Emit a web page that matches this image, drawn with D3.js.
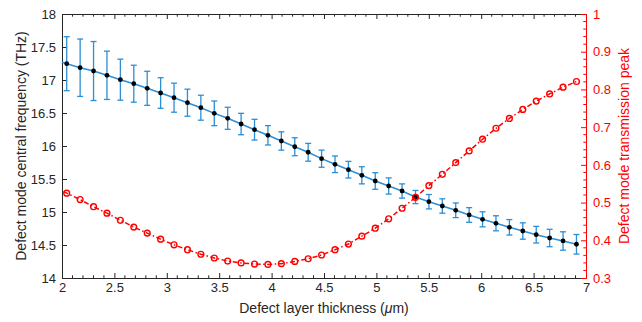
<!DOCTYPE html>
<html><head><meta charset="utf-8">
<script src="https://cdn.jsdelivr.net/npm/d3@7"></script>
<style>body{margin:0;background:#fff}svg{display:block}text{font-family:"Liberation Sans",Arial,sans-serif}</style>
</head><body><svg id="c" width="642" height="322"></svg>
<script>
// thickness (µm); first sample lies just outside the axis and is clipped
const thickness = [1.917,2.045,2.173,2.301,2.429,2.557,2.685,2.813,2.941,3.069,3.197,3.325,3.453,3.581,3.709,3.837,3.965,4.093,4.221,4.349,4.477,4.605,4.733,4.861,4.989,5.117,5.245,5.373,5.501,5.629,5.757,5.885,6.013,6.141,6.269,6.397,6.525,6.653,6.781,6.909];
const frequency = [17.306,17.247,17.186,17.136,17.071,17.005,16.944,16.874,16.803,16.732,16.656,16.580,16.495,16.420,16.333,16.247,16.162,16.076,15.989,15.905,15.808,15.723,15.641,15.556,15.470,15.394,15.318,15.227,15.156,15.091,15.026,14.955,14.889,14.829,14.768,14.712,14.656,14.606,14.561,14.511];
const freqError = [0.40,0.409,0.435,0.447,0.366,0.311,0.280,0.258,0.232,0.220,0.205,0.189,0.187,0.167,0.162,0.157,0.147,0.139,0.136,0.135,0.130,0.126,0.126,0.130,0.126,0.123,0.108,0.100,0.109,0.109,0.111,0.111,0.114,0.114,0.117,0.124,0.126,0.132,0.139,0.148];
const transmission = [0.543,0.525,0.508,0.489,0.472,0.453,0.435,0.419,0.403,0.388,0.375,0.363,0.353,0.345,0.340,0.337,0.336,0.338,0.344,0.351,0.361,0.375,0.390,0.411,0.432,0.457,0.485,0.514,0.545,0.575,0.606,0.637,0.668,0.697,0.723,0.747,0.769,0.788,0.806,0.821];
const xTicks = [2,2.5,3,3.5,4,4.5,5,5.5,6,6.5,7];
const yLeftTicks = [14,14.5,15,15.5,16,16.5,17,17.5,18];
const yRightTicks = [0.3,0.4,0.5,0.6,0.7,0.8,0.9,1];

const L=62,R=586,T=14,B=278;
const gray="#262626", red="#ff0000", blue="#2b8ed6";
const svg=d3.select("#c");
const x=d3.scaleLinear().domain([2,7]).range([L,R]);
const yl=d3.scaleLinear().domain([14,18]).range([B,T]);
const yr=d3.scaleLinear().domain([0.3,1]).range([B,T]);

svg.append("defs").append("clipPath").attr("id","clip").append("rect")
  .attr("x",L).attr("y",T).attr("width",R-L).attr("height",B-T);

const minorX=d3.range(20,71).map(d=>d/10).filter(d=>!xTicks.some(t=>Math.abs(t-d)<1e-9));
const minorR=d3.range(15,51).map(d=>d/50).filter(d=>!yRightTicks.some(t=>Math.abs(t-d)<1e-9));

// bottom axis
const ax=svg.append("g").attr("transform",`translate(0,${B})`)
  .call(d3.axisBottom(x).tickValues(xTicks).tickSize(-5).tickPadding(5).tickFormat(d3.format("~g")));
ax.select(".domain").attr("stroke",gray);
ax.selectAll(".tick line").attr("stroke",gray);
ax.selectAll("text").attr("fill",gray).attr("font-size",13);
ax.append("g").selectAll("line").data(minorX).join("line")
  .attr("x1",d=>x(d)).attr("x2",d=>x(d)).attr("y1",0).attr("y2",-2.7).attr("stroke",gray);
// top axis
const at=svg.append("g").attr("transform",`translate(0,${T})`)
  .call(d3.axisTop(x).tickValues(xTicks).tickSize(-5).tickFormat(""));
at.select(".domain").attr("stroke",gray);
at.selectAll(".tick line").attr("stroke",gray);
at.append("g").selectAll("line").data(minorX).join("line")
  .attr("x1",d=>x(d)).attr("x2",d=>x(d)).attr("y1",0).attr("y2",2.7).attr("stroke",gray);
// left axis
const al=svg.append("g").attr("transform",`translate(${L},0)`)
  .call(d3.axisLeft(yl).tickValues(yLeftTicks).tickSize(-5).tickPadding(6).tickFormat(d3.format("~g")));
al.select(".domain").attr("stroke",gray);
al.selectAll(".tick line").attr("stroke",gray);
al.selectAll("text").attr("fill",gray).attr("font-size",13);
// right axis
const ar=svg.append("g").attr("transform",`translate(${R},0)`)
  .call(d3.axisRight(yr).tickValues(yRightTicks).tickSize(-5).tickPadding(7).tickFormat(d3.format("~g")));
ar.select(".domain").attr("stroke",red);
ar.selectAll(".tick line").attr("stroke",red);
ar.selectAll("text").attr("fill",red).attr("font-size",13);
ar.append("g").selectAll("line").data(minorR).join("line")
  .attr("y1",d=>yr(d)).attr("y2",d=>yr(d)).attr("x1",0).attr("x2",-2.7).attr("stroke",red);

const plot=svg.append("g").attr("clip-path","url(#clip)");
const idx=d3.range(thickness.length);
// error bars
const eb=plot.append("g").attr("stroke",blue).attr("stroke-width",1.3);
eb.selectAll(".v").data(idx).join("line")
  .attr("x1",i=>x(thickness[i])).attr("x2",i=>x(thickness[i]))
  .attr("y1",i=>yl(frequency[i]-freqError[i])).attr("y2",i=>yl(frequency[i]+freqError[i]));
eb.selectAll(".t").data(idx).join("line")
  .attr("x1",i=>x(thickness[i])-3).attr("x2",i=>x(thickness[i])+3)
  .attr("y1",i=>yl(frequency[i]+freqError[i])).attr("y2",i=>yl(frequency[i]+freqError[i]));
eb.selectAll(".b").data(idx).join("line")
  .attr("x1",i=>x(thickness[i])-3).attr("x2",i=>x(thickness[i])+3)
  .attr("y1",i=>yl(frequency[i]-freqError[i])).attr("y2",i=>yl(frequency[i]-freqError[i]));
plot.append("path").attr("fill","none").attr("stroke",blue).attr("stroke-width",1.5)
  .attr("d",d3.line().x(i=>x(thickness[i])).y(i=>yl(frequency[i]))(idx));
plot.append("g").selectAll("circle").data(idx).join("circle")
  .attr("cx",i=>x(thickness[i])).attr("cy",i=>yl(frequency[i])).attr("r",2.4).attr("fill","#000");
// transmission
plot.append("path").attr("fill","none").attr("stroke",red).attr("stroke-width",1.5)
  .attr("stroke-dasharray","5,2.5,1.5,2.5")
  .attr("d",d3.line().x(i=>x(thickness[i])).y(i=>yr(transmission[i]))(idx));
plot.append("g").selectAll("circle").data(idx).join("circle")
  .attr("cx",i=>x(thickness[i])).attr("cy",i=>yr(transmission[i])).attr("r",2.9)
  .attr("fill","none").attr("stroke",red).attr("stroke-width",1.4);

// labels
const xl=svg.append("text").attr("x",(L+R)/2).attr("y",313).attr("text-anchor","middle")
  .attr("font-size",14).attr("fill",gray);
xl.append("tspan").text("Defect layer thickness (");
xl.append("tspan").attr("font-style","italic").text("μ");
xl.append("tspan").text("m)");
svg.append("text").attr("transform",`translate(26,${(T+B)/2}) rotate(-90)`).attr("text-anchor","middle")
  .attr("font-size",14).attr("fill",gray).text("Defect mode central frequency (THz)");
svg.append("text").attr("transform",`translate(629,${(T+B)/2}) rotate(-90)`).attr("text-anchor","middle")
  .attr("font-size",14).attr("fill",red).text("Defect mode transmission peak");
</script></body></html>
